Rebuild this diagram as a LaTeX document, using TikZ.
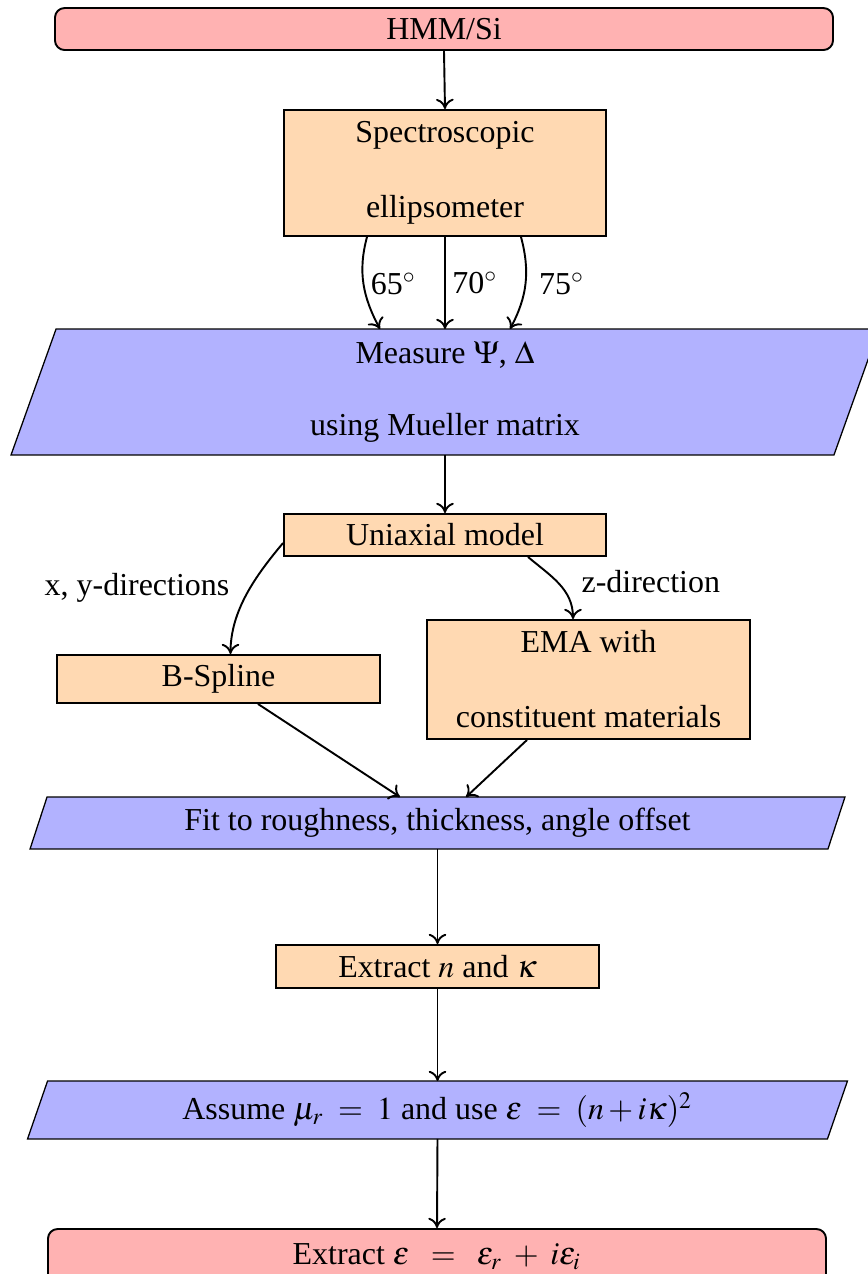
\documentclass[tikz,border=0pt]{standalone}
\usepackage{mathptmx}
\usepackage{fontspec}
\setmainfont{Liberation Serif}
\usetikzlibrary{calc,backgrounds,arrows.meta}
\newcommand\slantbox[2]{%
  \begin{scope}[on background layer]
    \draw[paraedge] ($(#1.south west)+(-#2,0)$) -- ($(#1.north west)+(#2,0)$)
      -- ($(#1.north east)+(#2,0)$) -- ($(#1.south east)+(-#2,0)$) -- cycle;
  \end{scope}}
\begin{document}
\begin{tikzpicture}[x=0.313pt,y=-0.313pt,line width=0.6pt,
  termbox/.style={draw=black,fill=red!30,rounded corners=3pt,inner sep=0pt,align=center},
  procbox/.style={draw=black,fill=orange!30,inner sep=0pt,align=center},
  iobox/.style={inner sep=0pt,align=center},
  paraedge/.style={draw=black,fill=blue!30},
  arr/.style={-{To[length=3.2pt,width=5.5pt]}},
  lab/.style={inner sep=2pt}]
\useasboundingbox[clip] (0,0) rectangle (868,1274);
% nodes
\node[termbox,minimum width=778*0.313pt,minimum height=42*0.313pt] (hmm) at (444,29) {HMM/Si};
\node[procbox,minimum width=322*0.313pt,minimum height=126*0.313pt] (spec) at (445,173) {Spectroscopic\\[11.5pt]ellipsometer};
\node[iobox,minimum width=821*0.313pt,minimum height=124*0.313pt] (meas) at (445,392) {Measure $\Psi$, $\Delta$\\[10.8pt]using Mueller matrix};
\slantbox{meas}{22.5}
\node[procbox,minimum width=322*0.313pt,minimum height=42*0.313pt] (uni) at (445,535) {Uniaxial model};
\node[procbox,minimum width=323*0.313pt,minimum height=48*0.313pt] (bsp) at (218.5,679) {B-Spline};
\node[procbox,minimum width=323*0.313pt,minimum height=119*0.313pt] (ema) at (588.5,679.5) {EMA with\\[11.5pt]constituent materials};
\node[iobox,minimum width=796*0.313pt,minimum height=50*0.313pt] (fit) at (437.5,823) {Fit to roughness, thickness, angle offset};
\slantbox{fit}{8.5}
\node[procbox,minimum width=323*0.313pt,minimum height=43*0.313pt] (extn) at (437.5,966.5) {Extract $n$ and $\kappa$};
\node[iobox,minimum width=798*0.313pt,minimum height=56*0.313pt] (assume) at (437.5,1110) {Assume $\mu_r\;=\;1$ and use $\varepsilon\;=\;(n+i\kappa)^2$};
\slantbox{assume}{10}
\node[termbox,minimum width=778*0.313pt,minimum height=56*0.313pt] (exte) at (437,1257) {Extract $\varepsilon\;\;=\;\;\varepsilon_r\;+\;i\varepsilon_i$};
% connectors
\draw[arr] (hmm.south) -- (spec.north);
\draw[arr] ($(spec.south)+(-78,0)$) to[out=255,in=118] node[lab,pos=0.5,anchor=west] {65$^\circ$} ($(meas.north)+(-65,0)$);
\draw[arr] (spec.south -| meas.north) -- node[lab,pos=0.5,anchor=west] {70$^\circ$} (meas.north);
\draw[arr] ($(spec.south)+(76,0)$) to[out=-75,in=62] node[lab,pos=0.5,anchor=west,xshift=2pt] {75$^\circ$} ($(meas.north)+(65,0)$);
\draw[arr] (meas.south) -- (uni.north);
\draw[arr] ($(uni.west)+(0,8)$) to[out=-130,in=90,looseness=0.9] ($(bsp.north)+(12,0)$);
\node (xylab) at (137,588) {x, y-directions};
\draw[arr] ($(uni.south)+(83,0)$) to[out=-40,in=90] ($(ema.north)+(-15.5,0)$);
\node[anchor=west] (zlab) at (570,582) {z-direction};
\draw[arr] ($(bsp.south)+(39.5,0)$) -- ($(fit.north)+(-37.5,0)$);
\draw[arr] ($(ema.south)+(-61.5,0)$) -- ($(fit.north)+(28.5,0)$);
\draw[arr] (fit.south) -- (extn.north);
\draw[arr] (extn.south) -- (assume.north);
\draw[arr] (assume.south) -- (exte.north);
\end{tikzpicture}
\end{document}
